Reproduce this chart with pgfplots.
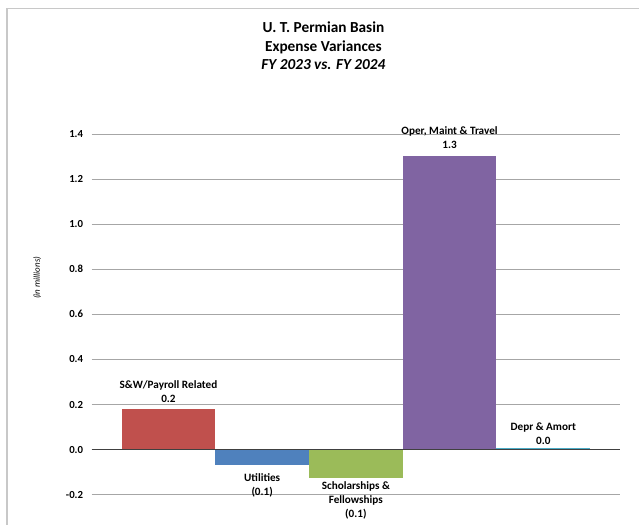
\documentclass[border=0pt]{standalone}
\usepackage{pgfplots}
\pgfplotsset{compat=1.18}
\usepackage{fontspec}
\setmainfont{Carlito}

\definecolor{barred}{HTML}{C0504D}
\definecolor{barblue}{HTML}{4F81BD}
\definecolor{bargreen}{HTML}{9BBB59}
\definecolor{barpurple}{HTML}{8064A2}
\definecolor{barteal}{HTML}{4BACC6}
\definecolor{framegray}{HTML}{C8C8C8}
\definecolor{gridgray}{HTML}{A6A6A6}
\definecolor{zerogray}{HTML}{404040}

\begin{document}
\begin{tikzpicture}
  \begin{axis}[
    set layers,
    scale only axis, width=529pt, height=361pt,
    xmin=-0.82, xmax=4.82,
    ymin=-0.2, ymax=1.4,
    ytick={-0.2,0,0.2,0.4,0.6,0.8,1.0,1.2,1.4},
    xtick=\empty,
    ymajorgrids,
    major grid style={gridgray, line width=0.8pt},
    major tick length=0pt,
    axis line style={draw=none},
    yticklabel style={font=\fontsize{10.8}{12}\selectfont\bfseries, xshift=-5pt},
    /pgf/number format/assume math mode=true,
    yticklabel={\pgfmathprintnumber[fixed, fixed zerofill, precision=1]{\tick}},
    ybar, bar width=1, clip=false,
  ]
    % chart area and its frame, kept beneath the grid
    \begin{pgfonlayer}{axis background}
      \path[fill=white] (axis cs:-1.7976,-0.3324) rectangle (axis cs:5.0259,1.9945);
      \draw[framegray, line width=1.2pt]
        (axis cs:-1.7230,-0.3324) -- (axis cs:-1.7230,1.9577) -- (axis cs:5.0259,1.9577);
    \end{pgfonlayer}

    % title
    \node[font=\fontsize{15.3}{18.5}\selectfont\bfseries, align=center] at (axis cs:1.6536,1.7906)
      {U. T. Permian Basin\\Expense Variances\\\itshape FY 2023 vs. FY 2024};

    % axis label
    \node[font=\fontsize{9}{11}\selectfont\itshape, rotate=90] at (axis cs:-1.40,0.7623) {(in  millions)};

    \addplot[fill=barred, draw=none, bar shift=0pt] coordinates {(0,0.182)};
    \addplot[fill=barblue, draw=none, bar shift=0pt] coordinates {(1,-0.068)};
    \addplot[fill=bargreen, draw=none, bar shift=0pt] coordinates {(2,-0.127)};
    \addplot[fill=barpurple, draw=none, bar shift=0pt] coordinates {(3,1.304)};
    \addplot[fill=barteal, draw=none, bar shift=0pt] coordinates {(4,0.009)};

    % horizontal axis line at zero
    \draw[zerogray, line width=1.3pt] (axis cs:-0.82,0) -- (axis cs:4.82,0);

    % data labels
    \begin{scope}[every node/.style={font=\fontsize{11.2}{14}\selectfont\bfseries, align=center}]
      \node at (axis cs:0,0.257) {S\&W/Payroll Related\\0.2};
      \node at (axis cs:1,-0.159) {Utilities\\(0.1)};
      \node at (axis cs:2,-0.226) {Scholarships \&\\Fellowships\\(0.1)};
      \node at (axis cs:3,1.384) {Oper, Maint \& Travel\\1.3};
      \node at (axis cs:4,0.069) {Depr \& Amort\\0.0};
    \end{scope}
  \end{axis}
\end{tikzpicture}
\end{document}
